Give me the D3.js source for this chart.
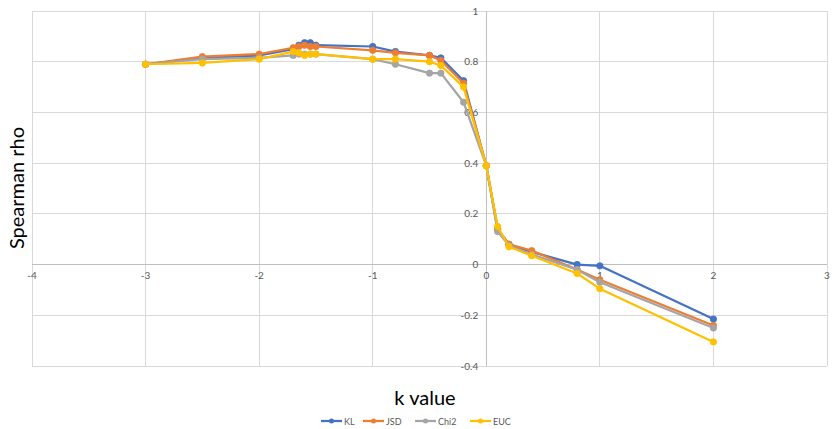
<!DOCTYPE html>
<html><head><meta charset="utf-8">
<script src="https://cdn.jsdelivr.net/npm/d3@7"></script>
<style>body{margin:0;background:#fff}svg{display:block}</style>
</head><body>
<svg id="c" width="837" height="429"></svg>
<script>
const kValues = [-3, -2.5, -2, -1.7, -1.65, -1.6, -1.55, -1.5, -1, -0.8, -0.5, -0.4, -0.2, 0, 0.1, 0.2, 0.4, 0.8, 1, 2];
const KL   = [0.79, 0.815, 0.825, 0.85, 0.865, 0.875, 0.875, 0.865, 0.86, 0.84, 0.825, 0.815, 0.725, 0.39, 0.14, 0.08, 0.05, 0.0, -0.005, -0.215];
const JSD  = [0.79, 0.82, 0.83, 0.855, 0.86, 0.865, 0.86, 0.86, 0.845, 0.835, 0.825, 0.805, 0.715, 0.39, 0.14, 0.08, 0.055, -0.02, -0.06, -0.24];
const Chi2 = [0.79, 0.81, 0.815, 0.825, 0.83, 0.83, 0.83, 0.83, 0.81, 0.79, 0.755, 0.755, 0.64, 0.39, 0.13, 0.075, 0.04, -0.02, -0.07, -0.25];
const EUC  = [0.79, 0.795, 0.81, 0.84, 0.835, 0.825, 0.83, 0.83, 0.81, 0.81, 0.80, 0.785, 0.70, 0.39, 0.15, 0.07, 0.035, -0.035, -0.095, -0.305];
const seriesNames = ["KL", "JSD", "Chi2", "EUC"];
const seriesColors = ["#4472C4", "#ED7D31", "#A5A5A5", "#FFC000"];
const xTicks = [-4, -3, -2, -1, 0, 1, 2, 3];
const yTicks = [-0.4, -0.2, 0, 0.2, 0.4, 0.6, 0.8, 1];
const xTitle = "k value";
const yTitle = "Spearman rho";

const seriesValues = [KL, JSD, Chi2, EUC];
const svg = d3.select("#c");
const font = "Lato, 'Liberation Sans', sans-serif";
const x = d3.scaleLinear().domain([-4, 3]).range([32, 827]);
const y = d3.scaleLinear().domain([-0.4, 1]).range([366, 11]);

// grid
svg.append("g").selectAll("line.v").data(xTicks).join("line")
  .attr("x1", d => x(d)).attr("x2", d => x(d)).attr("y1", y(1)).attr("y2", y(-0.4))
  .attr("stroke", "#d9d9d9").attr("stroke-width", 1).attr("shape-rendering", "crispEdges");
svg.append("g").selectAll("line.h").data(yTicks).join("line")
  .attr("x1", x(-4)).attr("x2", x(3)).attr("y1", d => y(d)).attr("y2", d => y(d))
  .attr("stroke", "#d9d9d9").attr("stroke-width", 1).attr("shape-rendering", "crispEdges");
// axes lines
svg.append("line").attr("x1", x(-4)).attr("x2", x(3)).attr("y1", y(0)).attr("y2", y(0))
  .attr("stroke", "#bfbfbf").attr("shape-rendering", "crispEdges");
svg.append("line").attr("x1", x(0)).attr("x2", x(0)).attr("y1", y(1)).attr("y2", y(-0.4))
  .attr("stroke", "#bfbfbf").attr("shape-rendering", "crispEdges");

// tick labels
svg.append("g").selectAll("text").data(xTicks).join("text")
  .attr("x", d => x(d)).attr("y", y(0) + 14).attr("text-anchor", "middle")
  .attr("font-family", font).attr("font-size", 10).attr("fill", "#595959")
  .text(d => d3.format("")(d).replace("−", "-"));
svg.append("g").selectAll("text").data(yTicks).join("text")
  .attr("x", x(0) - 8).attr("y", d => y(d) + 3.5).attr("text-anchor", "end")
  .attr("font-family", font).attr("font-size", 10).attr("fill", "#595959")
  .text(d => String(d).replace("−", "-"));

// lines and markers
const line = d3.line().x((d, i) => x(kValues[i])).y(d => y(d));
seriesValues.forEach((vals, si) => {
  const g = svg.append("g");
  g.append("path").datum(vals).attr("d", line).attr("fill", "none")
    .attr("stroke", seriesColors[si]).attr("stroke-width", 2.25).attr("stroke-linejoin", "round");
  g.selectAll("circle").data(vals).join("circle")
    .attr("cx", (d, i) => x(kValues[i])).attr("cy", d => y(d)).attr("r", 3.2)
    .attr("fill", seriesColors[si]).attr("stroke", seriesColors[si]).attr("stroke-width", 0.75);
});

// titles
svg.append("text").attr("x", 425).attr("y", 405).attr("text-anchor", "middle")
  .attr("font-family", font).attr("font-size", 20).attr("fill", "#000").text(xTitle);
svg.append("text").attr("transform", "translate(24,188) rotate(-90)").attr("text-anchor", "middle")
  .attr("font-family", font).attr("font-size", 20).attr("fill", "#000").text(yTitle);

// legend
const legX = [321, 363, 415, 470];
seriesNames.forEach((n, i) => {
  const g = svg.append("g").attr("transform", `translate(${legX[i]},421)`);
  g.append("line").attr("x1", 0).attr("x2", 21).attr("y1", 0).attr("y2", 0)
    .attr("stroke", seriesColors[i]).attr("stroke-width", 2.25);
  g.append("circle").attr("cx", 10.5).attr("cy", 0).attr("r", 2.5).attr("fill", seriesColors[i]);
  g.append("text").attr("x", 23).attr("y", 3.5).attr("font-family", font).attr("font-size", 9)
    .attr("fill", "#595959").text(n);
});
</script>
</body></html>
